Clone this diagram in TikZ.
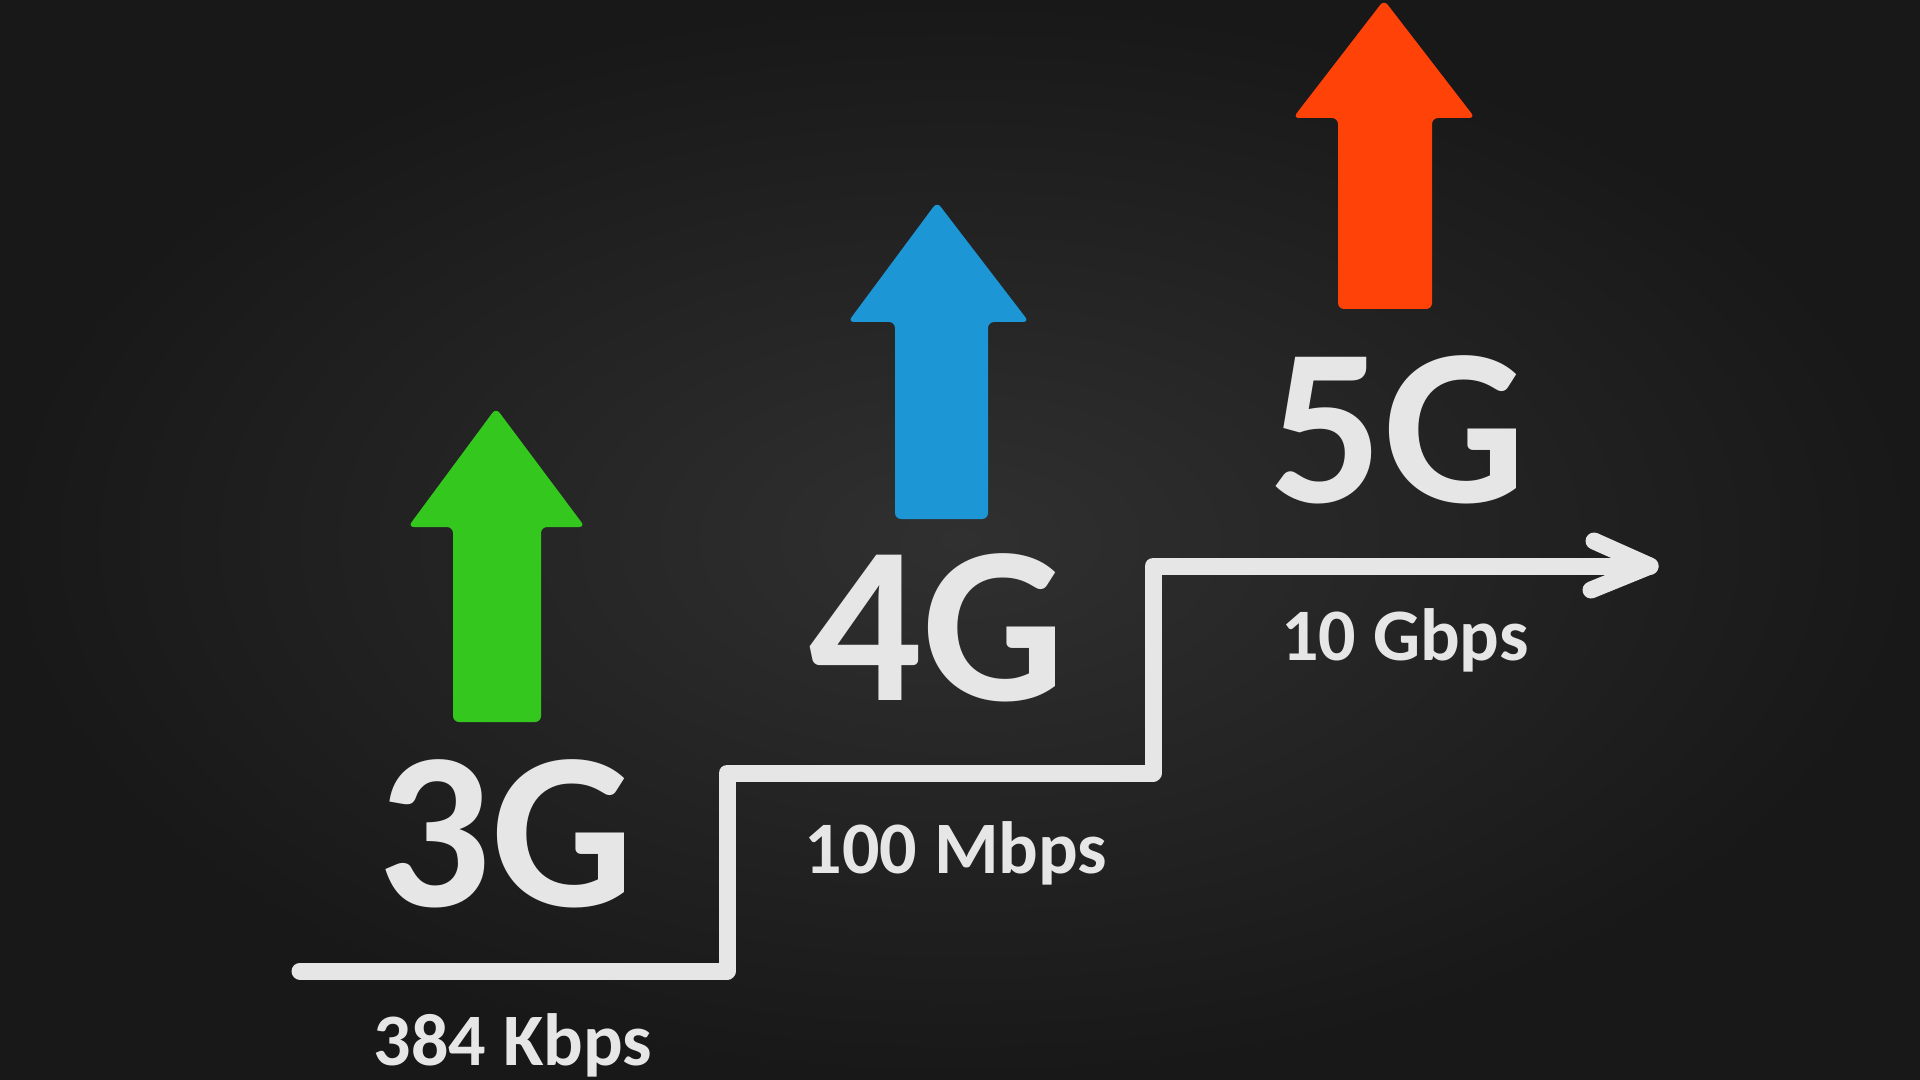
\documentclass[tikz,border=0pt]{standalone}
\usepackage{fontspec}
\setmainfont{Carlito}
\usetikzlibrary{arrows.meta}
\definecolor{board}{RGB}{48,48,48}
\definecolor{boardedge}{RGB}{24,24,24}
\definecolor{chalk}{RGB}{230,230,230}
\definecolor{upgreen}{RGB}{52,200,30}
\definecolor{upblue}{RGB}{28,150,212}
\definecolor{upred}{RGB}{255,66,8}
\begin{document}
\begin{tikzpicture}[x=0.5pt,y=-0.5pt,
  chalkline/.style={draw=chalk, line width=8.5pt, line cap=round, line join=round},
  bigtext/.style={text=chalk, font=\bfseries\fontsize{112}{112}\selectfont, inner sep=0pt, anchor=base},
  ratetext/.style={text=chalk, font=\bfseries\fontsize{37}{37}\selectfont, inner sep=0pt, anchor=base},
  upshape/.style={rounded corners=3pt}]
\fill[inner color=board, outer color=boardedge] (0,0) rectangle (1920,1080);
\useasboundingbox (0,0) rectangle (1920,1080);

% coloured arrows
\fill[upgreen, upshape] (496,408) -- (585,527) -- (541,527) -- (541,722) -- (453,722) -- (453,527) -- (408,527) -- cycle;
\fill[upblue, upshape] (937,202) -- (1029,322) -- (988,322) -- (988,519) -- (895,519) -- (895,322) -- (848,322) -- cycle;
\fill[upred, upshape] (1384,0) -- (1475,118) -- (1432,118) -- (1432,309) -- (1338,309) -- (1338,118) -- (1293,118) -- cycle;

% generation labels
\node[bigtext] (g3) at (506,906) {3G};
\node[bigtext] (g4) at (937,700) {4G};
\node[bigtext] (g5) at (1398,502) {5G};

% speed labels
\node[ratetext] (r3) at (513,1065) {384 Kbps};
\node[ratetext] (r4) at (956,873) {100 Mbps};
\node[ratetext] (r5) at (1405,660) {10 Gbps};

% staircase
\coordinate (s0) at (300,971);
\coordinate (s1) at (727,971);
\coordinate (s2) at (727,773);
\coordinate (s3) at (1153,773);
\coordinate (s4) at (1153,566);
\coordinate (s5) at (1650,566);
\coordinate (b1) at (1594,541);
\coordinate (b2) at (1591,590);
\draw[chalkline] (s0) -- (s1) -- (s2) -- (s3) -- (s4) -- (s5);
\draw[chalkline] (b1) -- (s5) -- (b2);
\end{tikzpicture}
\end{document}
